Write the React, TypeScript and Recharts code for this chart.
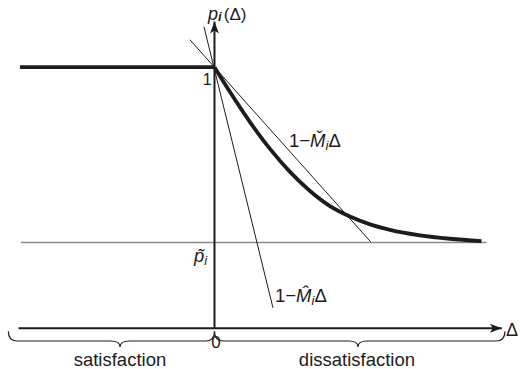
import React from 'react';
import { ComposedChart, Line, XAxis, YAxis, ReferenceDot, ReferenceArea } from 'recharts';

// Δ (deviation) and p_i(Δ) values
const flatPart = [
  { d: -3.96, p: 1 },
  { d: 0, p: 1 },
];
const responseCurve = [
  { d: 0, p: 1.0 },
  { d: 0.316, p: 0.905 },
  { d: 0.723, p: 0.79 },
  { d: 1.13, p: 0.687 },
  { d: 1.537, p: 0.599 },
  { d: 1.944, p: 0.526 },
  { d: 2.351, p: 0.468 },
  { d: 2.758, p: 0.428 },
  { d: 3.165, p: 0.398 },
  { d: 3.573, p: 0.377 },
  { d: 4.183, p: 0.356 },
  { d: 4.794, p: 0.343 },
  { d: 5.435, p: 0.334 },
];
const lowerBound = [
  { d: -3.94, p: 0.329 },
  { d: 5.54, p: 0.329 },
];
const mCheckLine = [
  { d: -0.5, p: 1.105 },
  { d: 3.18, p: 0.331 },
];
const mHatLine = [
  { d: -0.214, p: 1.155 },
  { d: 1.191, p: 0.078 },
];
const xAxisLine = [
  { d: -3.99, p: 0 },
  { d: 5.85, p: 0 },
];
const yAxisLine = [
  { d: 0, p: 0 },
  { d: 0, p: 1.175 },
];
const regionLabels = ['satisfaction', 'dissatisfaction'];

const FONT = '"Liberation Sans", Arial, Helvetica, sans-serif';
const INK = '#1c1c1c';

const arrowDot = (dir: 'up' | 'right') => (props: any) => {
  const { cx, cy, index } = props;
  if (index !== 1 || cx == null || cy == null) return <g key={`n${index}`} />;
  const L = 12;
  const W = 4.5;
  const N = 3;
  const d =
    dir === 'up'
      ? `M${cx},${cy} L${cx + W},${cy + L} L${cx},${cy + L - N} L${cx - W},${cy + L} Z`
      : `M${cx},${cy} L${cx - L},${cy - W} L${cx - L + N},${cy} L${cx - L},${cy + W} Z`;
  return <path key={`a${index}`} d={d} fill={INK} />;
};

const braceShape = (cuspFrac: number) => (props: any) => {
  const { x, y, width, height } = props;
  const x0 = x;
  const x1 = x + width;
  const yTop = y;
  const yBot = y + height;
  const yMid = yTop + height * 0.62;
  const xc = x0 + width * cuspFrac;
  const r = 9;
  const d = `M${x0},${yTop} Q${x0},${yMid} ${x0 + r},${yMid} L${xc - r},${yMid} Q${xc},${yMid} ${xc},${yBot} Q${xc},${yMid} ${xc + r},${yMid} L${x1 - r},${yMid} Q${x1},${yMid} ${x1},${yTop}`;
  return <path d={d} fill="none" stroke={INK} strokeWidth={1.2} />;
};

const textAt = (render: (x: number, y: number) => React.ReactNode) => (props: any) => (
  <g>{render(props.cx, props.cy)}</g>
);

export default function App() {
  return (
    <div style={{ position: 'absolute', left: 0, top: 0, background: '#fff' }}>
      <ComposedChart width={520} height={369} margin={{ top: 0, right: 0, bottom: 0, left: 0 }}>
        <XAxis type="number" dataKey="d" domain={[-4.366, 6.219]} hide allowDataOverflow />
        <YAxis type="number" dataKey="p" domain={[-0.1559, 1.2574]} hide allowDataOverflow />

        <Line data={lowerBound} dataKey="p" type="linear" stroke="#8a8a8a" strokeWidth={1.5} dot={false} activeDot={false} isAnimationActive={false} />
        <Line data={xAxisLine} dataKey="p" type="linear" stroke={INK} strokeWidth={2} dot={arrowDot('right')} activeDot={false} isAnimationActive={false} />
        <Line data={yAxisLine} dataKey="p" type="linear" stroke={INK} strokeWidth={2} dot={arrowDot('up')} activeDot={false} isAnimationActive={false} />
        <Line data={mCheckLine} dataKey="p" type="linear" stroke={INK} strokeWidth={1} dot={false} activeDot={false} isAnimationActive={false} />
        <Line data={mHatLine} dataKey="p" type="linear" stroke={INK} strokeWidth={1} dot={false} activeDot={false} isAnimationActive={false} />
        <Line data={flatPart} dataKey="p" type="linear" stroke={INK} strokeWidth={3.8} dot={false} activeDot={false} isAnimationActive={false} />
        <Line data={responseCurve} dataKey="p" type="monotone" stroke={INK} strokeWidth={3.8} dot={false} activeDot={false} isAnimationActive={false} />

        <ReferenceArea x1={-4.196} x2={0} y1={-0.011} y2={-0.0716} shape={braceShape(0.542)} ifOverflow="visible" />
        <ReferenceArea x1={0} x2={5.913} y1={-0.011} y2={-0.0716} shape={braceShape(0.494)} ifOverflow="visible" />

        <ReferenceDot x={-0.13} y={1.18} ifOverflow="visible" shape={textAt((x, y) => (
          <text x={x} y={y} fontFamily={FONT} fontSize={18} fill={INK}>
            <tspan fontStyle="italic">p</tspan>
            <tspan fontStyle="italic" fontWeight="bold" fontSize={13} dy={1}>i</tspan>
            <tspan dx={2} dy={-1} fontSize={17}>(Δ)</tspan>
          </text>
        ))} />
        <ReferenceDot x={-0.06} y={0.93} ifOverflow="visible" shape={textAt((x, y) => (
          <text x={x} y={y} fontFamily={FONT} fontSize={16} fill={INK} textAnchor="end">1</text>
        ))} />
        <ReferenceDot x={1.517} y={0.694} ifOverflow="visible" shape={textAt((x, y) => (
          <text x={x} y={y} fontFamily={FONT} fontSize={18.5} fill={INK}>
            1−<tspan fontStyle="italic">M̌</tspan><tspan fontStyle="italic" fontSize={13} dy={3}>i</tspan><tspan dy={-3}>Δ</tspan>
          </text>
        ))} />
        <ReferenceDot x={1.232} y={0.101} ifOverflow="visible" shape={textAt((x, y) => (
          <text x={x} y={y} fontFamily={FONT} fontSize={18.5} fill={INK}>
            1−<tspan fontStyle="italic">M̂</tspan><tspan fontStyle="italic" fontSize={13} dy={3}>i</tspan><tspan dy={-3}>Δ</tspan>
          </text>
        ))} />
        <ReferenceDot x={-0.417} y={0.254} ifOverflow="visible" shape={textAt((x, y) => (
          <text x={x} y={y} fontFamily={FONT} fontSize={18.5} fill={INK}>
            <tspan fontStyle="italic">p̃</tspan><tspan fontStyle="italic" fontSize={13} dy={3}>i</tspan>
          </text>
        ))} />
        <ReferenceDot x={0.03} y={-0.075} ifOverflow="visible" shape={textAt((x, y) => (
          <text x={x} y={y} fontFamily={FONT} fontSize={17} fill={INK} textAnchor="middle">0</text>
        ))} />
        <ReferenceDot x={5.933} y={-0.029} ifOverflow="visible" shape={textAt((x, y) => (
          <text x={x} y={y} fontFamily={FONT} fontSize={18} fill={INK}>Δ</text>
        ))} />
        <ReferenceDot x={-1.924} y={-0.144} ifOverflow="visible" shape={textAt((x, y) => (
          <text x={x} y={y} fontFamily={FONT} fontSize={18.5} fill={INK} textAnchor="middle">{regionLabels[0]}</text>
        ))} />
        <ReferenceDot x={2.9} y={-0.144} ifOverflow="visible" shape={textAt((x, y) => (
          <text x={x} y={y} fontFamily={FONT} fontSize={18.5} fill={INK} textAnchor="middle">{regionLabels[1]}</text>
        ))} />
      </ComposedChart>
    </div>
  );
}
